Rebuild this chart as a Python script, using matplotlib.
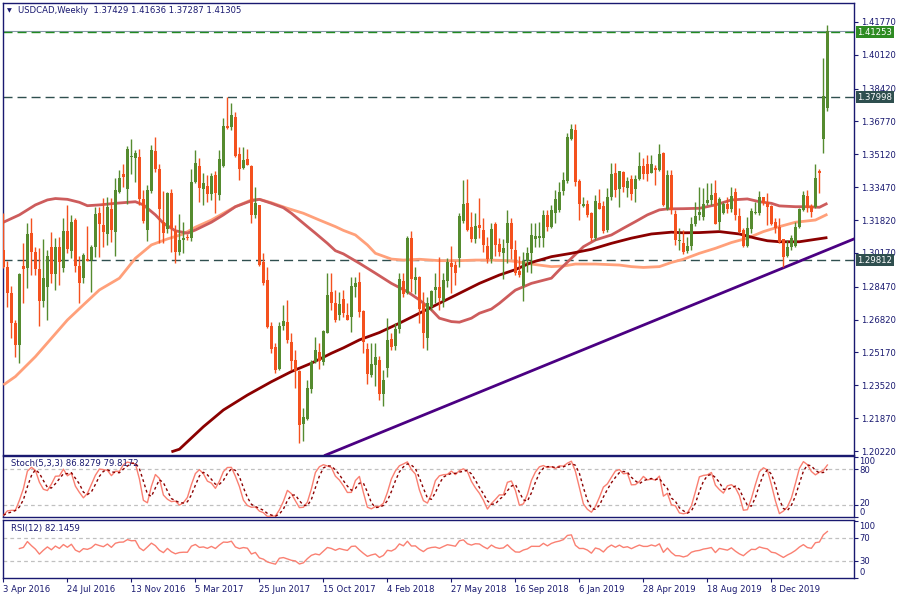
import numpy as np
import pandas as pd
import matplotlib
matplotlib.use('Agg')
import matplotlib.pyplot as plt
from matplotlib.transforms import blended_transform_factory

plt.rcParams['font.family'] = ['DejaVu Sans']

# ---------------- data (weekly USDCAD) ----------------
opens = [1.3032, 1.2948, 1.2815, 1.2664, 1.2555, 1.2951, 1.2943, 1.3116, 1.3023, 1.2935,
         1.2777, 1.2844, 1.3047, 1.2910, 1.3047, 1.2940, 1.3129, 1.3028, 1.3182, 1.2953,
         1.2893, 1.2985, 1.2980, 1.3047, 1.3218, 1.3157, 1.3114, 1.3238, 1.3124, 1.3325,
         1.3414, 1.3340, 1.3500, 1.3492, 1.3499, 1.3289, 1.3132, 1.3330, 1.3529, 1.3437,
         1.3171, 1.3136, 1.3317, 1.3129, 1.3023, 1.3080, 1.3097, 1.3094, 1.3373, 1.3454,
         1.3338, 1.3352, 1.3312, 1.3408, 1.3310, 1.3455, 1.3655, 1.3648, 1.3700, 1.3514,
         1.3445, 1.3489, 1.3454, 1.3209, 1.3258, 1.2971, 1.2880, 1.2649, 1.2545, 1.2433,
         1.2650, 1.2672, 1.2570, 1.2479, 1.2426, 1.2156, 1.2185, 1.2332, 1.2471, 1.2518,
         1.2471, 1.2617, 1.2822, 1.2764, 1.2705, 1.2784, 1.2705, 1.2697, 1.2847, 1.2872,
         1.2725, 1.2534, 1.2404, 1.2454, 1.2479, 1.2310, 1.2438, 1.2585, 1.2550, 1.2635,
         1.2876, 1.2817, 1.3092, 1.2882, 1.2895, 1.2759, 1.2592, 1.2747, 1.2833, 1.2844,
         1.2777, 1.2878, 1.2965, 1.2956, 1.2990, 1.3177, 1.3266, 1.3149, 1.3085, 1.3157,
         1.3132, 1.3050, 1.2986, 1.3162, 1.3062, 1.3015, 1.3065, 1.3166, 1.3032, 1.2927,
         1.2851, 1.2977, 1.3018, 1.3089, 1.3092, 1.3091, 1.3208, 1.3149, 1.3216, 1.3233,
         1.3330, 1.3378, 1.3591, 1.3635, 1.3380, 1.3253, 1.3261, 1.3216, 1.3091, 1.3266,
         1.3253, 1.3132, 1.3296, 1.3417, 1.3338, 1.3424, 1.3345, 1.3386, 1.3337, 1.3386,
         1.3454, 1.3463, 1.3420, 1.3440, 1.3434, 1.3517, 1.3236, 1.3408, 1.3211, 1.3075,
         1.3068, 1.3028, 1.3052, 1.3162, 1.3209, 1.3199, 1.3269, 1.3283, 1.3320, 1.3174,
         1.3219, 1.3263, 1.3236, 1.3323, 1.3203, 1.3132, 1.3053, 1.3136, 1.3216, 1.3219,
         1.3296, 1.3274, 1.3253, 1.3174, 1.3146, 1.3085, 1.3002, 1.3045, 1.3052, 1.3149,
         1.3233, 1.3303, 1.3253, 1.3249, 1.3425, 1.3588, 1.37429]
highs = [1.3216, 1.2975, 1.2850, 1.2680, 1.2915, 1.3065, 1.3166, 1.3191, 1.3048, 1.3040,
         1.3087, 1.3032, 1.3121, 1.3091, 1.3099, 1.3191, 1.3258, 1.3206, 1.3194, 1.3002,
         1.3015, 1.3152, 1.3057, 1.3249, 1.3246, 1.3291, 1.3299, 1.3294, 1.3392, 1.3434,
         1.3464, 1.3554, 1.3588, 1.3534, 1.3538, 1.3333, 1.3358, 1.3559, 1.3598, 1.3464,
         1.3330, 1.3325, 1.3337, 1.3157, 1.3213, 1.3171, 1.3112, 1.3439, 1.3534, 1.3492,
         1.3420, 1.3410, 1.3417, 1.3430, 1.3536, 1.3695, 1.3799, 1.3769, 1.3727, 1.3548,
         1.3548, 1.3538, 1.3457, 1.3348, 1.3260, 1.3015, 1.2946, 1.2669, 1.2563, 1.2669,
         1.2756, 1.2781, 1.2613, 1.2529, 1.2427, 1.2236, 1.2379, 1.2479, 1.2596, 1.2563,
         1.2630, 1.2918, 1.2915, 1.2831, 1.2822, 1.2831, 1.2767, 1.2898, 1.2898, 1.2920,
         1.2730, 1.2563, 1.2563, 1.2563, 1.2499, 1.2429, 1.2690, 1.2613, 1.2664, 1.2915,
         1.2915, 1.3102, 1.3126, 1.2948, 1.2903, 1.2822, 1.2797, 1.2831, 1.2915, 1.2998,
         1.2915, 1.2990, 1.3052, 1.2977, 1.3216, 1.3383, 1.3388, 1.3224, 1.3219, 1.3291,
         1.3191, 1.3099, 1.3166, 1.3172, 1.3091, 1.3089, 1.3233, 1.3191, 1.3082, 1.3002,
         1.3023, 1.3045, 1.3166, 1.3166, 1.3174, 1.3233, 1.3233, 1.3258, 1.3333, 1.3375,
         1.3425, 1.3621, 1.3665, 1.3665, 1.3388, 1.3299, 1.3283, 1.3224, 1.3308, 1.3338,
         1.3279, 1.3342, 1.3467, 1.3467, 1.3430, 1.3429, 1.3400, 1.3409, 1.3409, 1.3522,
         1.3492, 1.3509, 1.3509, 1.3459, 1.3563, 1.3526, 1.3434, 1.3434, 1.3233, 1.3141,
         1.3130, 1.3099, 1.3199, 1.3274, 1.3350, 1.3342, 1.3367, 1.3367, 1.3383, 1.3299,
         1.3274, 1.3299, 1.3350, 1.3342, 1.3241, 1.3141, 1.3199, 1.3241, 1.3274, 1.3328,
         1.3299, 1.3320, 1.3258, 1.3191, 1.3191, 1.3089, 1.3082, 1.3107, 1.3174, 1.3241,
         1.3328, 1.3333, 1.3261, 1.3464, 1.3439, 1.3998, 1.41636]
lows = [1.2940, 1.2747, 1.2588, 1.2496, 1.2463, 1.2764, 1.2839, 1.2906, 1.2906, 1.2652,
        1.2747, 1.2680, 1.2864, 1.2831, 1.2856, 1.2923, 1.3015, 1.2990, 1.2923, 1.2764,
        1.2864, 1.2975, 1.2822, 1.2998, 1.2998, 1.3048, 1.3057, 1.3073, 1.3003, 1.3320,
        1.3350, 1.3261, 1.3412, 1.3375, 1.3258, 1.3166, 1.3078, 1.3317, 1.3425, 1.3065,
        1.3065, 1.3116, 1.3023, 1.2968, 1.3007, 1.3015, 1.3082, 1.3078, 1.3367, 1.3274,
        1.3258, 1.3274, 1.3283, 1.3219, 1.3283, 1.3447, 1.3638, 1.3635, 1.3500, 1.3383,
        1.3439, 1.3457, 1.3166, 1.3191, 1.2953, 1.2856, 1.2642, 1.2513, 1.2412, 1.2427,
        1.2630, 1.2563, 1.2427, 1.2340, 1.2064, 1.2074, 1.2178, 1.2315, 1.2463, 1.2433,
        1.2454, 1.2614, 1.2731, 1.2672, 1.2680, 1.2697, 1.2678, 1.2622, 1.2797, 1.2697,
        1.2513, 1.2357, 1.2395, 1.2350, 1.2278, 1.2248, 1.2395, 1.2529, 1.2529, 1.2613,
        1.2797, 1.2811, 1.2822, 1.2811, 1.2664, 1.2541, 1.2529, 1.2730, 1.2764, 1.2730,
        1.2747, 1.2847, 1.2814, 1.2856, 1.2948, 1.3166, 1.3127, 1.3073, 1.3065, 1.3091,
        1.3023, 1.2965, 1.2965, 1.3003, 1.3002, 1.2884, 1.2965, 1.2986, 1.2906, 1.2898,
        1.2777, 1.2920, 1.2915, 1.3048, 1.3048, 1.3045, 1.3129, 1.3141, 1.3166, 1.3224,
        1.3308, 1.3367, 1.3584, 1.3355, 1.3182, 1.3249, 1.3199, 1.3077, 1.3082, 1.3237,
        1.3116, 1.3124, 1.3283, 1.3299, 1.3246, 1.3325, 1.3296, 1.3283, 1.3274, 1.3383,
        1.3386, 1.3378, 1.3417, 1.3358, 1.3429, 1.3253, 1.3233, 1.3211, 1.3057, 1.3032,
        1.3012, 1.3015, 1.3032, 1.3154, 1.3182, 1.3182, 1.3258, 1.3258, 1.3160, 1.3132,
        1.3213, 1.3216, 1.3224, 1.3182, 1.3116, 1.3048, 1.3048, 1.3116, 1.3213, 1.3208,
        1.3258, 1.3157, 1.3157, 1.3116, 1.3065, 1.2948, 1.2998, 1.3032, 1.3048, 1.3141,
        1.3229, 1.3224, 1.3199, 1.3244, 1.3317, 1.3517, 1.37287]
closes = [1.2948, 1.2815, 1.2664, 1.2555, 1.2911, 1.2938, 1.3112, 1.3023, 1.2935, 1.2777,
          1.2890, 1.3002, 1.2910, 1.3047, 1.2970, 1.3129, 1.3039, 1.3172, 1.2953, 1.2868,
          1.3008, 1.2978, 1.3047, 1.3211, 1.3164, 1.3124, 1.3246, 1.3132, 1.3333, 1.3392,
          1.3400, 1.3539, 1.3505, 1.3517, 1.3289, 1.3179, 1.3333, 1.3534, 1.3437, 1.3236,
          1.3116, 1.3317, 1.3141, 1.3023, 1.3080, 1.3094, 1.3091, 1.3373, 1.3469, 1.3345,
          1.3370, 1.3312, 1.3403, 1.3320, 1.3489, 1.3655, 1.3646, 1.3710, 1.3505, 1.3439,
          1.3484, 1.3460, 1.3209, 1.3269, 1.2958, 1.2868, 1.2644, 1.2533, 1.2429, 1.2649,
          1.2675, 1.2580, 1.2476, 1.2426, 1.2153, 1.2193, 1.2340, 1.2471, 1.2528, 1.2476,
          1.2625, 1.2807, 1.2764, 1.2680, 1.2759, 1.2714, 1.2680, 1.2852, 1.2867, 1.2722,
          1.2568, 1.2409, 1.2459, 1.2494, 1.2310, 1.2379, 1.2580, 1.2546, 1.2637, 1.2886,
          1.2809, 1.3094, 1.2886, 1.2895, 1.2735, 1.2613, 1.2767, 1.2824, 1.2846, 1.2792,
          1.2882, 1.2971, 1.2946, 1.2918, 1.3203, 1.3263, 1.3132, 1.3085, 1.3152, 1.3144,
          1.3057, 1.2986, 1.3139, 1.3057, 1.3023, 1.3043, 1.3166, 1.3035, 1.2915, 1.2906,
          1.2977, 1.3015, 1.3106, 1.3104, 1.3104, 1.3208, 1.3146, 1.3233, 1.3288, 1.3323,
          1.3383, 1.3601, 1.3638, 1.3372, 1.3261, 1.3263, 1.3208, 1.3094, 1.3278, 1.3239,
          1.3129, 1.3298, 1.3412, 1.3333, 1.3429, 1.3347, 1.3378, 1.3312, 1.3386, 1.3454,
          1.3414, 1.3414, 1.3464, 1.3435, 1.3512, 1.3258, 1.3408, 1.3233, 1.3082, 1.3077,
          1.3019, 1.3053, 1.3162, 1.3203, 1.3221, 1.3263, 1.3283, 1.3310, 1.3162, 1.3288,
          1.3263, 1.3236, 1.3303, 1.3208, 1.3120, 1.3053, 1.3141, 1.3228, 1.3221, 1.3299,
          1.3269, 1.3249, 1.3160, 1.3141, 1.3073, 1.2998, 1.3048, 1.3091, 1.3149, 1.3236,
          1.3308, 1.3241, 1.3224, 1.3395, 1.3420, 1.3805, 1.41305]

# moving averages (bar index -> value)
ma50_idx = [0, 4, 8, 11, 13, 16, 19, 21, 24, 28, 33, 35, 38, 40, 43, 46, 48, 52, 55, 58,
            62, 64, 67, 70, 72, 76, 78, 81, 83, 85, 89, 93, 97, 101, 104, 107, 109, 112, 114,
            117, 119, 122, 124, 127, 128, 132, 137, 139, 142, 145, 148, 152, 155, 158, 161,
            164, 166, 170, 174, 178, 182, 186, 189, 192, 194, 198, 201, 204, 206]
ma50_val = [1.3171, 1.3208, 1.3258, 1.3283, 1.3290, 1.3286, 1.3271, 1.3254, 1.3258, 1.3266,
            1.3274, 1.3258, 1.3208, 1.3166, 1.3128, 1.3116, 1.3132, 1.3171, 1.3208, 1.3249,
            1.3279, 1.3286, 1.3266, 1.3244, 1.3216, 1.3149, 1.3116, 1.3065, 1.3028, 1.3012,
            1.2965, 1.2915, 1.2864, 1.2822, 1.2781, 1.2731, 1.2689, 1.2672, 1.2669, 1.2689,
            1.2714, 1.2735, 1.2764, 1.2814, 1.2830, 1.2864, 1.2890, 1.2932, 1.2990, 1.3048,
            1.3082, 1.3107, 1.3141, 1.3174, 1.3208, 1.3233, 1.3238, 1.3239, 1.3241, 1.3258,
            1.3283, 1.3288, 1.3274, 1.3266, 1.3253, 1.3249, 1.3249, 1.3246, 1.3266]
ma100_idx = [0, 3, 8, 12, 16, 20, 24, 29, 33, 37, 41, 45, 48, 52, 55, 58, 62, 64, 67, 71,
             75, 79, 83, 85, 88, 91, 93, 97, 100, 104, 109, 114, 118, 122, 126, 128, 132, 137,
             140, 143, 148, 154, 157, 160, 164, 167, 170, 174, 178, 182, 186, 190, 194, 198,
             203, 206]
ma100_val = [1.2354, 1.2396, 1.2496, 1.2588, 1.2680, 1.2756, 1.2831, 1.2890, 1.2990, 1.3057,
             1.3087, 1.3112, 1.3146, 1.3182, 1.3216, 1.3249, 1.3283, 1.3286, 1.3269, 1.3241,
             1.3216, 1.3182, 1.3149, 1.3130, 1.3107, 1.3057, 1.3015, 1.2986, 1.2981, 1.2985,
             1.2978, 1.2978, 1.2981, 1.2981, 1.2978, 1.2974, 1.2961, 1.2948, 1.2951, 1.2961,
             1.2961, 1.2956, 1.2948, 1.2944, 1.2948, 1.2969, 1.2985, 1.3015, 1.3040, 1.3069,
             1.3091, 1.3124, 1.3149, 1.3171, 1.3182, 1.3211]
ma200_idx = [42, 44, 50, 55, 61, 67, 72, 77, 82, 85, 89, 94, 99, 104, 109, 114, 119, 124,
             128, 132, 137, 142, 147, 152, 157, 162, 167, 170, 174, 179, 184, 188, 191, 194,
             199, 202, 206]
ma200_val = [1.2018, 1.2031, 1.2144, 1.2228, 1.2303, 1.2370, 1.2421, 1.2463, 1.2513, 1.2540,
             1.2580, 1.2617, 1.2664, 1.2714, 1.2764, 1.2814, 1.2864, 1.2906, 1.2933, 1.2969,
             1.2998, 1.3015, 1.3035, 1.3065, 1.3091, 1.3112, 1.3121, 1.3118, 1.3119, 1.3124,
             1.3112, 1.3091, 1.3078, 1.3073, 1.3073, 1.3082, 1.3094]

trend_idx = [80.5, 213.0]
trend_val = [1.2001, 1.3090]

level_top = 1.41253
level_mid = 1.37998
level_low = 1.29812

price_ticks = [1.41770, 1.40120, 1.38420, 1.36770, 1.35120, 1.33470, 1.31820,
               1.30170, 1.28470, 1.26820, 1.25170, 1.23520, 1.21870, 1.20220]
date_idx = [0, 16, 32, 48, 64, 80, 96, 112, 128, 144, 160, 176, 192]
date_labels = ['3 Apr 2016', '24 Jul 2016', '13 Nov 2016', '5 Mar 2017', '25 Jun 2017',
               '15 Oct 2017', '4 Feb 2018', '27 May 2018', '16 Sep 2018', '6 Jan 2019',
               '28 Apr 2019', '18 Aug 2019', '8 Dec 2019']

title_text = 'USDCAD,Weekly  1.37429 1.41636 1.37287 1.41305'
stoch_text = 'Stoch(5,3,3) 86.8279 79.8172'
rsi_text = 'RSI(12) 82.1459'

# ---------------- styling ----------------
NAVY = '#191970'
BULL = '#558B2F'
BEAR = '#F4511E'
FS = 6.1
W, H = 900, 600

fig = plt.figure(figsize=(9, 6), dpi=100)
fig.patch.set_facecolor('white')


def px_axes(left, top, right, bottom):
    return fig.add_axes([left / W, 1 - bottom / H, (right - left) / W, (bottom - top) / H])


ax = px_axes(3, 3, 854, 455)
ax_st = px_axes(3, 456, 854, 517)
ax_rsi = px_axes(3, 519.5, 854, 578.3)

XL = (-0.1, 212.65)
for a in (ax, ax_st, ax_rsi):
    a.set_xlim(*XL)
    a.set_facecolor('white')
    for s in a.spines.values():
        s.set_color(NAVY)
        s.set_linewidth(1.0)
    a.tick_params(axis='x', bottom=False, labelbottom=False)
    a.yaxis.tick_right()
    a.tick_params(axis='y', colors=NAVY, labelcolor=NAVY, length=3, width=0.8,
                  labelsize=FS, pad=2, left=False)

O = np.array(opens); Hh = np.array(highs); Ll = np.array(lows); C = np.array(closes)
x = np.arange(len(C))
ax.set_ylim(1.2002, 1.4272)
ax.set_yticks(price_ticks)
ax.set_yticklabels(['%.5f' % v for v in price_ticks])

# horizontal levels
ax.axhline(C[-1], color='#8899aa', lw=0.8, zorder=1)
dash = (0, (6.5, 3.6))
ax.axhline(level_top, color='#228B22', lw=1.0, ls=dash, zorder=2)
ax.axhline(level_mid, color='#2F4F4F', lw=1.0, ls=dash, zorder=2)
ax.axhline(level_low, color='#2F4F4F', lw=1.0, ls=dash, zorder=2)

# moving averages
ax.plot(ma100_idx, ma100_val, color='#FFA07A', lw=2.0, zorder=3, solid_capstyle='butt')
ax.plot(ma50_idx, ma50_val, color='#CD5C5C', lw=2.0, zorder=3, solid_capstyle='butt')
ax.plot(ma200_idx, ma200_val, color='#8B0000', lw=2.0, zorder=3, solid_capstyle='butt')
ax.plot(trend_idx, trend_val, color='#4B0082', lw=2.0, zorder=3)

# candles
cols = np.where(C >= O, BULL, BEAR)
ax.vlines(x, Ll, Hh, colors=cols, lw=1.0, zorder=4)
bot = np.minimum(O, C)
hgt = np.maximum(np.abs(C - O), 0.0006)
ax.bar(x, hgt, bottom=bot, width=0.78, color=cols, linewidth=0, zorder=5)

# level labels on the price axis
tr = blended_transform_factory(ax.transAxes, ax.transData)
for val, fc in ((level_top, '#2E8B22'), (level_mid, '#2F4F4F'), (level_low, '#2F4F4F')):
    ax.text(1.0 + 3.5 / 851, val, '%.5f' % val, transform=tr, ha='left', va='center',
            fontsize=FS, color='white', zorder=10, clip_on=False,
            bbox=dict(boxstyle='square,pad=0.15', fc=fc, ec='none'))

# title
fig.text(7 / W, 1 - 10.5 / H, '\u25BC', fontsize=4.5, color=NAVY, va='center', ha='left')
fig.text(18 / W, 1 - 10.5 / H, title_text, fontsize=FS, color=NAVY, va='center', ha='left')

# ---------------- Stochastic (5,3,3) ----------------
sC = pd.Series(C); sH = pd.Series(Hh); sL = pd.Series(Ll)
ll5 = sL.rolling(5, min_periods=1).min()
hh5 = sH.rolling(5, min_periods=1).max()
num = (sC - ll5).rolling(3, min_periods=1).sum()
den = (hh5 - ll5).rolling(3, min_periods=1).sum()
k = 100 * num / den
d = k.rolling(3, min_periods=1).mean()

ax_st.set_ylim(0, 101.7)
ax_st.set_yticks([100, 80, 20, 0])
ax_st.set_yticklabels([])
for lv in (80, 20):
    ax_st.axhline(lv, color='#C0C0C0', lw=0.9, ls=(0, (3, 2.5)), zorder=1)
ax_st.plot(x, k, color='#FA8072', lw=1.0, zorder=3)
ax_st.plot(x, d, color='#8B0000', lw=1.0, ls=(0, (2, 2)), zorder=3)
ax_st.text(8 / 851, 1 - 7.5 / 61, stoch_text, transform=ax_st.transAxes, fontsize=FS,
           color=NAVY, va='center', ha='left')
trs = blended_transform_factory(ax_st.transAxes, ax_st.transData)
for lab, yv in (('100', 93), ('80', 78), ('20', 22), ('0', 8)):
    ax_st.text(1.0 + 5 / 851, yv, lab, transform=trs, fontsize=FS, color=NAVY,
               va='center', ha='left', clip_on=False)

# ---------------- RSI (12) ----------------
delta = sC.diff()
gain = delta.clip(lower=0)
loss = -delta.clip(upper=0)
ag = gain.ewm(alpha=1 / 12, adjust=True).mean()
al = loss.ewm(alpha=1 / 12, adjust=True).mean()
rsi = 100 * ag / (ag + al)
start = 4

ax_rsi.set_ylim(-0.5, 103.2)
ax_rsi.set_yticks([100, 70, 30, 0])
ax_rsi.set_yticklabels([])
for lv in (70, 30):
    ax_rsi.axhline(lv, color='#C0C0C0', lw=0.9, ls=(0, (3, 2.5)), zorder=1)
ax_rsi.plot(x[start:], rsi.values[start:], color='#FA8072', lw=1.0, zorder=3)
ax_rsi.text(8 / 851, 1 - 8.5 / 58.8, rsi_text, transform=ax_rsi.transAxes, fontsize=FS,
            color=NAVY, va='center', ha='left')
trr = blended_transform_factory(ax_rsi.transAxes, ax_rsi.transData)
for lab, yv in (('100', 91), ('70', 70), ('30', 30), ('0', 9.5)):
    ax_rsi.text(1.0 + 5 / 851, yv, lab, transform=trr, fontsize=FS, color=NAVY,
                va='center', ha='left', clip_on=False)

# date axis
ax_rsi.tick_params(axis='x', bottom=True, labelbottom=True, colors=NAVY, length=3,
                   width=0.8, labelsize=FS, pad=2)
ax_rsi.set_xticks(date_idx)
ax_rsi.set_xticklabels(date_labels, ha='left', color=NAVY)

fig.savefig('out.png', dpi=100, facecolor='white')
